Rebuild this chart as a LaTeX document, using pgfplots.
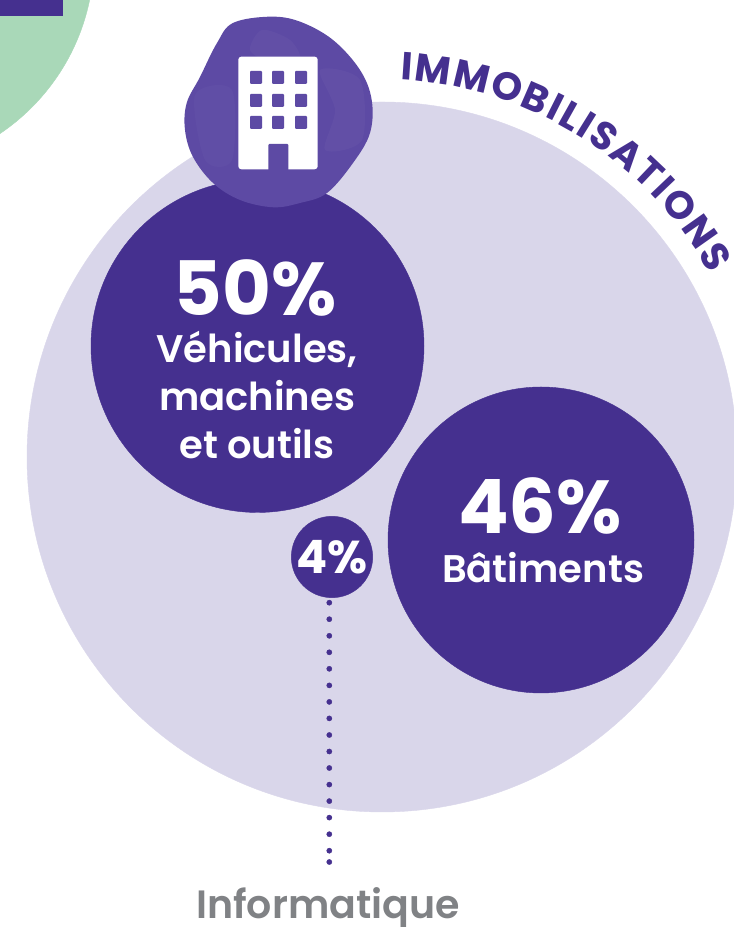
\documentclass[border=0pt]{standalone}
\usepackage{fontspec}
\usepackage{pgfplots}
\pgfplotsset{compat=1.18}
\usetikzlibrary{decorations.text}
\setmainfont{Poppins}
\newfontfamily\semi{Poppins SemiBold}
\definecolor{deep}{HTML}{45308F}
\definecolor{pale}{HTML}{D9D6EA}
\definecolor{blob}{HTML}{5D4AA4}
\definecolor{mint}{HTML}{A9D8B8}
\definecolor{greyt}{HTML}{808285}
\newcommand{\fs}[1]{\fontsize{#1}{#1}\selectfont}
\pgfplotsset{canvas/.style={
  at={(-400pt,0pt)},anchor=south west,
  width=1534pt,height=1327pt,scale only axis,
  xmin=-400,xmax=1134,ymin=-400,ymax=927,y dir=reverse,
  hide axis,clip=false}}
\begin{document}
\begin{tikzpicture}
\path[use as bounding box] (0,0) rectangle (734pt,927pt);
\clip (0,0) rectangle (734pt,927pt);
\begin{axis}[canvas]
% decorative green disc
\addplot[only marks,mark=*,mark size=213pt,mark options={fill=mint,draw=mint}] coordinates {(-119,-43)};
% outer bubble
\addplot[only marks,mark=*,mark size=355pt,mark options={fill=pale,draw=pale}] coordinates {(382,457)};
% share bubbles
\addplot[only marks,mark=*,mark size=166.5pt,mark options={fill=deep,draw=deep}] coordinates {(257.5,346)};
\addplot[only marks,mark=*,mark size=153pt,mark options={fill=deep,draw=deep}] coordinates {(541,540)};
\addplot[only marks,mark=*,mark size=40.7pt,mark options={fill=deep,draw=deep}] coordinates {(332,557)};
% dotted leader
\addplot[only marks,mark=*,mark size=2.6pt,mark options={fill=deep,draw=deep}] coordinates {
(329.3,602.7)(329.3,619.2)(329.3,635.8)(329.3,652.3)(329.3,668.8)(329.3,685.4)(329.3,701.9)(329.3,718.4)
(329.3,735)(329.3,751.5)(329.3,768)(329.3,784.6)(329.3,801.1)(329.3,817.6)(329.3,834.2)(329.3,850.7)(329.3,862)};
\end{axis}
\begin{axis}[canvas]
% corner band
\addplot[fill=deep,draw=none] coordinates {(0,-5)(63,-5)(63,16)(0,16)} --cycle;
% watercolour blob
\fill[blob] plot[smooth cycle,tension=0.6] coordinates {
(axis cs:270,16.7)(axis cs:300,21.7)(axis cs:333,40)(axis cs:360,70)(axis cs:371.7,100)(axis cs:370,133)(axis cs:353,163)(axis cs:327,193)(axis cs:300,203)(axis cs:273,207.3)(axis cs:240,200)(axis cs:213,183)(axis cs:193,157)(axis cs:185,130)(axis cs:186.7,103)(axis cs:200,77)(axis cs:217,43)(axis cs:233,23)};
\fill[white,opacity=.03] plot[smooth cycle] coordinates {(axis cs:262,30)(axis cs:290,40)(axis cs:300,60)(axis cs:270,62)(axis cs:250,50)};
\fill[white,opacity=.03] plot[smooth cycle] coordinates {(axis cs:320,70)(axis cs:360,80)(axis cs:362,140)(axis cs:325,150)(axis cs:335,110)};
\fill[white,opacity=.025] plot[smooth cycle] coordinates {(axis cs:195,95)(axis cs:232,90)(axis cs:232,160)(axis cs:205,160)};
% building icon
\fill[white,rounded corners=3pt] (axis cs:238.3,56.7) rectangle (axis cs:317.7,169.3);
\fill[blob,rounded corners=1pt] (axis cs:268.3,144) rectangle (axis cs:288.3,172);
\foreach \wx in {250,272,295}{\foreach \wy in {71,94,116}{
  \edef\tmp{\noexpand\fill[blob,rounded corners=1pt] (axis cs:\wx,\wy) rectangle ++(12pt,-13pt);}\tmp}}
% curved title
\path[decorate,decoration={text along path,text align={fit to path},
  text={|\fs{39}\bfseries\color{deep}|IMMOBILISATIONS}}]
  (axis cs:400,80) arc[start angle=87,end angle=29,radius=377pt];
% labels
\node[white,font=\fs{75}\bfseries,anchor=base] at (axis cs:255,316) {50\%};
\node[white,font=\fs{38.5}\semi,anchor=base] at (axis cs:257,363) {Véhicules,};
\node[white,font=\fs{38.5}\semi,anchor=base] at (axis cs:257,411) {machines};
\node[white,font=\fs{38.5}\semi,anchor=base] at (axis cs:257,459) {et outils};
\node[white,font=\fs{75}\bfseries,anchor=base] at (axis cs:540,534) {46\%};
\node[white,font=\fs{38.5}\semi,anchor=base] at (axis cs:543,583) {Bâtiments};
\node[white,font=\fs{46}\bfseries,anchor=base] at (axis cs:332,574) {4\%};
\node[greyt,font=\fs{39.5}\semi,anchor=base] at (axis cs:328,918) {Informatique};
\end{axis}
\end{tikzpicture}
\end{document}
